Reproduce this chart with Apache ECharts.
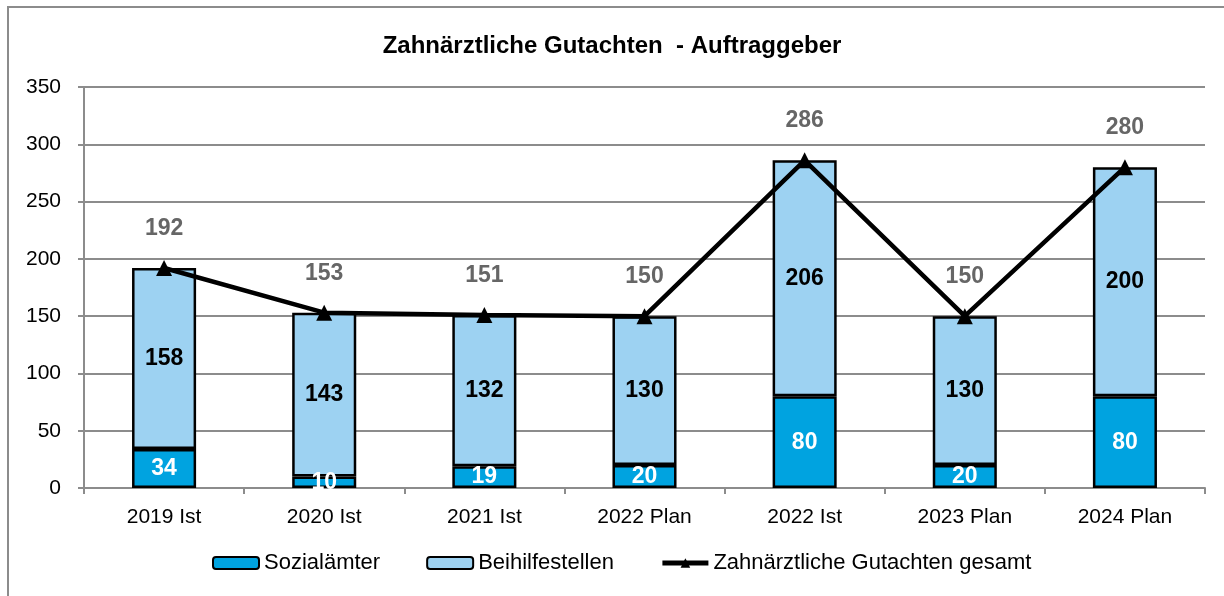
<!DOCTYPE html>
<html>
<head>
<meta charset="utf-8">
<script src="https://cdn.jsdelivr.net/npm/echarts@6/dist/echarts.min.js"></script>
<style>
html,body{margin:0;padding:0;background:#fff;}
#chart{width:1224px;height:596px;}
</style>
</head>
<body>
<div id="chart"></div>
<script>
var categories=['2019 Ist','2020 Ist','2021 Ist','2022 Plan','2022 Ist','2023 Plan','2024 Plan'];
var sozial=[34,10,19,20,80,20,80];
var beihilfe=[158,143,132,130,206,130,200];
var gesamt=[192,153,151,150,286,150,280];

var font='"Liberation Sans", Arial, sans-serif';
var myChart=echarts.init(document.getElementById('chart'));
var option={
    animation:false,
    textStyle:{fontFamily:font},
    title:{
        text:'Zahnärztliche Gutachten  - Auftraggeber',
        left:'center',top:29,
        textStyle:{fontSize:24,fontWeight:'bold',color:'#000',fontFamily:font}
    },
    graphic:[{                          //外框
        type:'rect',
        shape:{x:8,y:7,width:1240,height:620},
        style:{fill:'none',stroke:'#8c8c8c',lineWidth:2},
        silent:true
    }],
    grid:{left:84,right:19,top:87,bottom:108},
    legend:{
        bottom:17,left:207,
        itemGap:46,itemWidth:46,itemHeight:12,
        textStyle:{fontSize:22,color:'#000',fontFamily:font},
        data:[
            {name:'Sozialämter',itemStyle:{borderColor:'#000',borderWidth:2}},
            {name:'Beihilfestellen',itemStyle:{borderColor:'#000',borderWidth:2}},
            {name:'Zahnärztliche Gutachten gesamt',lineStyle:{width:5}}
        ]
    },
    xAxis:{
        type:'category',
        data:categories,
        axisLine:{lineStyle:{color:'#8c8c8c',width:2}},
        axisTick:{show:true,length:6,lineStyle:{color:'#8c8c8c',width:2}},
        axisLabel:{fontSize:21,color:'#000',margin:19,fontFamily:font}
    },
    yAxis:{
        type:'value',min:0,max:350,interval:50,
        axisLine:{show:true,lineStyle:{color:'#8c8c8c',width:2}},
        axisTick:{show:true,length:6,lineStyle:{color:'#8c8c8c',width:2}},
        splitLine:{lineStyle:{color:'#8c8c8c',width:2}},
        axisLabel:{fontSize:21,color:'#000',margin:23,fontFamily:font}
    },
    series:[
        {
            name:'Sozialämter',type:'bar',stack:'a',barWidth:'40%',
            data:sozial,
            itemStyle:{color:'#00a3e0',borderColor:'#000',borderWidth:2.5},
            label:{show:true,position:'inside',color:'#fff',fontWeight:'bold',fontSize:23,fontFamily:font}
        },
        {
            name:'Beihilfestellen',type:'bar',stack:'a',barWidth:'40%',
            data:beihilfe,
            itemStyle:{color:'#9dd2f2',borderColor:'#000',borderWidth:2.5},
            label:{show:true,position:'inside',color:'#000',fontWeight:'bold',fontSize:23,fontFamily:font}
        },
        {
            name:'Zahnärztliche Gutachten gesamt',type:'line',
            data:gesamt,
            symbol:'triangle',symbolSize:16,
            lineStyle:{color:'#000',width:4.5},
            itemStyle:{color:'#000'},
            label:{show:true,position:'top',distance:20,color:'#666',fontWeight:'bold',fontSize:23,fontFamily:font},
            z:5
        }
    ]
};
myChart.setOption(option);
</script>
</body>
</html>
